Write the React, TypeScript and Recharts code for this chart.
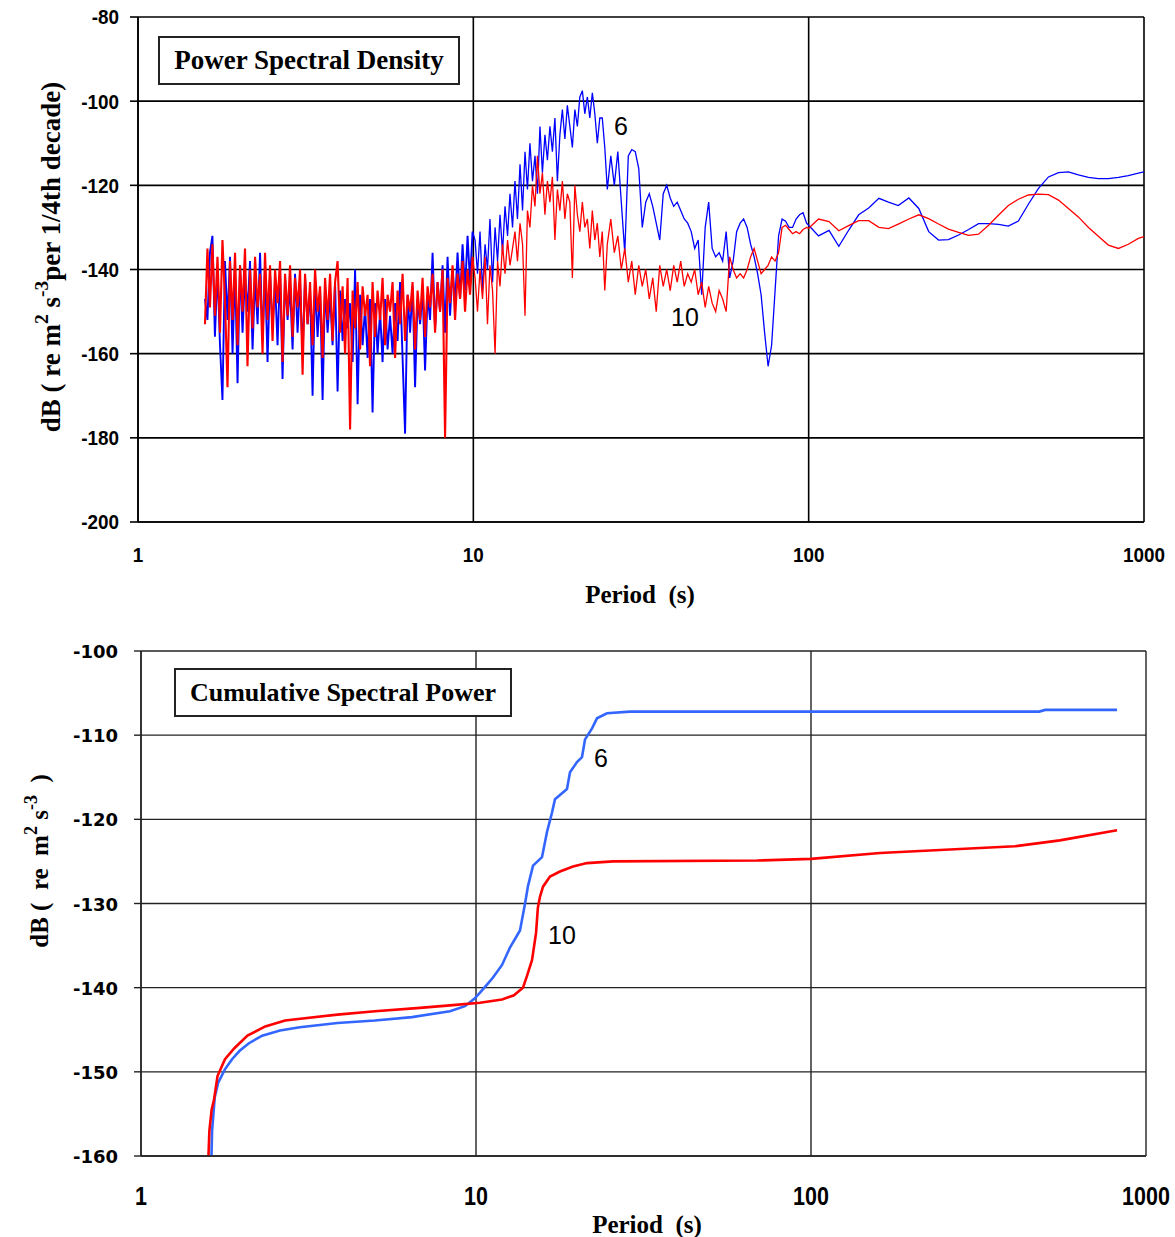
import React from "react";
import { CartesianGrid, Line, LineChart, XAxis, YAxis } from "recharts";

// axes
const periodTicks = [1, 10, 100, 1000];
const psdTicks = [-200, -180, -160, -140, -120, -100, -80];
const cumTicks = [-160, -150, -140, -130, -120, -110, -100];

// ---- Power Spectral Density (top panel), period in s, values in dB ----
// 1.6 - 10 s (dense, noisy part)
const psdPeriodsLow = [
  1.584, 1.611, 1.639, 1.667, 1.696, 1.726, 1.756, 1.786, 1.817, 1.849,
  1.881, 1.914, 1.947, 1.981, 2.015, 2.05, 2.085, 2.121, 2.158, 2.196,
  2.234, 2.273, 2.312, 2.352, 2.392, 2.434, 2.476, 2.519, 2.563, 2.607,
  2.652, 2.698, 2.745, 2.793, 2.841, 2.89, 2.94, 2.991, 3.043, 3.096,
  3.149, 3.204, 3.259, 3.316, 3.373, 3.432, 3.491, 3.552, 3.613, 3.676,
  3.739, 3.804, 3.87, 3.937, 4.005, 4.075, 4.145, 4.217, 4.29, 4.365,
  4.44, 4.517, 4.595, 4.675, 4.755, 4.838, 4.921, 5.006, 5.093, 5.181,
  5.271, 5.362, 5.455, 5.55, 5.645, 5.743, 5.843, 5.944, 6.047, 6.152,
  6.258, 6.366, 6.477, 6.589, 6.703, 6.819, 6.937, 7.057, 7.179, 7.304,
  7.43, 7.559, 7.689, 7.822, 7.958, 8.096, 8.236, 8.378, 8.523, 8.671,
  8.821, 8.973, 9.129, 9.287, 9.447, 9.611, 9.777, 9.946
];
const psdBlueLow = [
  -147, -152, -136, -132, -156, -140, -158, -171, -138, -152,
  -137, -160, -140, -167, -139, -155, -141, -150, -138, -159,
  -142, -153, -136, -157, -140, -162, -141, -154, -143, -158,
  -140, -166, -142, -152, -144, -159, -141, -155, -143, -160,
  -142, -153, -145, -170, -143, -156, -145, -171, -144, -155,
  -146, -158, -143, -169, -145, -157, -147, -154, -148, -162,
  -140, -172, -146, -158, -149, -161, -147, -174, -148, -160,
  -150, -162, -147, -159, -151, -160, -148, -157, -143, -161,
  -179, -146, -155, -144, -168, -147, -153, -145, -164, -146,
  -152, -136, -154, -143, -150, -139, -155, -137, -151, -140,
  -148, -136, -147, -134, -145, -132, -143, -131
];
const psdRedLow = [
  -153, -135, -149, -134, -151, -137, -155, -133, -147, -168,
  -138, -152, -136, -158, -139, -150, -135, -163, -140, -154,
  -137, -149, -141, -160, -136, -152, -139, -157, -140, -148,
  -138, -162, -141, -151, -139, -156, -142, -149, -140, -165,
  -141, -153, -143, -158, -140, -150, -144, -161, -142, -152,
  -141, -157, -143, -138, -155, -144, -160, -142, -178, -145,
  -154, -143, -159, -144, -151, -146, -163, -143, -156, -145,
  -152, -142, -158, -146, -150, -143, -161, -145, -153, -141,
  -157, -146, -150, -143, -159, -145, -152, -142, -156, -144,
  -149, -141, -155, -143, -150, -140, -180, -142, -148, -139,
  -152, -141, -147, -138, -150, -140, -146, -137
];

// 10 - 25 s (peak)
const psdPeriodsMid = [
  10.12, 10.29, 10.47, 10.65, 10.84, 11.02, 11.21, 11.41, 11.61, 11.81,
  12.01, 12.22, 12.43, 12.65, 12.86, 13.09, 13.31, 13.54, 13.78, 14.02,
  14.26, 14.5, 14.75, 15.01, 15.27, 15.53, 15.8, 16.07, 16.35, 16.63,
  16.92, 17.21, 17.51, 17.81, 18.12, 18.43, 18.75, 19.07, 19.4, 19.74,
  20.08, 20.43, 20.78, 21.14, 21.5, 21.88, 22.25, 22.64, 23.03, 23.43,
  23.83, 24.24, 24.66, 25.09
];
const psdBlueMid = [
  -133, -141, -131, -145, -134, -140, -128, -143, -130, -138,
  -127, -136, -125, -132, -122, -130, -119, -128, -115, -126,
  -112, -121, -110, -119, -113, -122, -106, -117, -108, -114,
  -106, -112, -104, -119, -108, -102, -109, -101, -106, -111,
  -102, -106, -99, -97.5, -103, -99, -104, -98, -103, -110,
  -104, -104, -111, -121
];
const psdRedMid = [
  -142, -150, -140, -147, -137, -153, -139, -145, -160, -138,
  -144, -134, -141, -133, -139, -135, -131, -138, -129, -134,
  -151, -126, -130, -120, -125, -113, -122, -117, -127, -119,
  -124, -118, -133, -121, -126, -119, -128, -122, -124, -142,
  -120, -127, -131, -124, -130, -128, -135, -126, -133, -129,
  -137, -131, -145, -134
];

// 25 - 100 s
const psdPeriodsLong = [
  25.7, 26.33, 26.97, 27.62, 28.29, 28.98, 29.68, 30.4, 31.14, 31.9,
  32.67, 33.47, 34.28, 35.11, 35.97, 36.84, 37.73, 38.65, 39.59, 40.55,
  41.54, 42.55, 43.58, 44.64, 45.72, 46.83, 47.97, 49.14, 50.33, 51.55,
  52.8, 54.09, 55.4, 56.75, 58.13, 59.54, 60.98, 62.47, 63.98, 65.54,
  67.13, 68.76, 70.43, 72.14, 73.89, 75.69, 77.53, 79.41, 81.34, 83.32,
  85.34, 87.42, 89.54, 91.72, 93.95, 96.23, 98.57
];
const psdBlueLong = [
  -113, -120, -112, -124, -136, -113, -111.5, -112, -116, -130,
  -124, -122, -125, -129, -133, -122, -120, -123, -125, -124,
  -126, -128, -129, -131, -135, -133, -146, -130, -124, -135,
  -137, -136, -138, -131, -142, -138, -131, -129, -128, -130,
  -134, -137, -141, -146, -155, -163, -158, -145, -132, -128,
  -128.5, -130, -130, -128, -127, -126.5, -129
];
const psdRedLong = [
  -128, -136, -132, -140, -135, -143, -138, -146, -139, -144,
  -140, -147, -142, -150, -139, -144, -140, -145, -139, -143,
  -138, -144, -141, -143, -140, -146, -143, -149, -144, -148,
  -150, -145, -147, -150, -137, -140, -142, -141, -142, -140,
  -137, -135, -138, -141, -140, -139, -137, -138, -136, -130,
  -129.5, -130.5, -131.5, -131, -131.5, -130.5, -130
];

// 100 - 1000 s (smooth)
const psdPeriodsTail = [
  100, 107, 115, 123, 132, 141, 151, 162, 173, 185,
  199, 213, 228, 244, 261, 280, 300, 321, 344, 368,
  394, 422, 452, 484, 519, 556, 595, 637, 683, 731,
  783, 839, 898, 962, 1000
];
const psdBlueTail = [
  -129.5, -132, -130.7, -134.5, -130.5, -127, -125.4, -123.1, -124, -124.8,
  -123, -125.5, -131, -133, -132.9, -131.8, -130.5, -129.1, -129.1, -129.3,
  -129.7, -128.5, -124.5, -120.8, -118, -117, -116.8, -117.5, -118.1, -118.4,
  -118.4, -118.1, -117.7, -117.1, -116.8
];
const psdRedTail = [
  -130.2, -128, -128.6, -130.8, -129.5, -128.4, -128.4, -130, -130.3, -129.2,
  -128, -127, -127.9, -129.2, -130.4, -131.2, -131.9, -131.6, -129.5, -127.1,
  -124.8, -123.3, -122.3, -122.1, -122.2, -123.5, -125.5, -127.5, -130, -132.1,
  -134.2, -135, -134, -132.6, -132.2
];

// ---- Cumulative Spectral Power (bottom panel) ----
const cumBluePeriods = [
  1.623, 1.63, 1.66, 1.7, 1.78, 1.87, 1.97, 2.1, 2.3, 2.6,
  2.98, 3.86, 4.99, 6.44, 8.36, 9.27, 9.9, 10.28, 10.8, 11.24,
  11.96, 12.64, 13.53, 14.01, 14.3, 14.8, 15.74, 16.29, 16.86, 17.21,
  18.69, 19.08, 20.02, 20.72, 21.16, 22.2, 22.97, 24.6, 28.82, 480,
  500, 819.5
];
const cumBlueValues = [
  -160, -157, -153, -151.3, -149.7, -148.5, -147.5, -146.6, -145.7, -145.1,
  -144.7, -144.2, -143.9, -143.5, -142.8, -142.2, -141.3, -140.6, -139.6, -138.8,
  -137.3, -135.2, -133.2, -130, -127.9, -125.5, -124.5, -121.5, -119.2, -117.6,
  -116.4, -114.4, -113.2, -112.6, -110.5, -109.2, -108, -107.4, -107.2, -107.2,
  -107, -107
];
const cumRedPeriods = [
  1.59, 1.6, 1.625, 1.652, 1.692, 1.781, 1.9, 2.079, 2.35, 2.691,
  3.86, 4.994, 6.804, 8.362, 10.28, 11.96, 12.98, 13.81, 14.2, 14.7,
  15.11, 15.3, 15.52, 15.85, 16.63, 17.81, 19.48, 21.45, 25.64, 69,
  100, 160.7, 406, 553, 819.5
];
const cumRedValues = [
  -160, -157, -154.5, -153.3, -150.5, -148.5, -147.2, -145.7, -144.6, -143.9,
  -143.2, -142.8, -142.4, -142.1, -141.8, -141.4, -140.9, -140, -138.6, -136.7,
  -133.5, -130.5, -129.2, -128, -126.8, -126.2, -125.6, -125.2, -125, -124.9,
  -124.7, -124, -123.2, -122.5, -121.3
];

const psdPeriods = [...psdPeriodsLow, ...psdPeriodsMid, ...psdPeriodsLong, ...psdPeriodsTail];
const psdBlue = [...psdBlueLow, ...psdBlueMid, ...psdBlueLong, ...psdBlueTail];
const psdRed = [...psdRedLow, ...psdRedMid, ...psdRedLong, ...psdRedTail];
const lowEnd = psdPeriodsLow.length - 1;
// the short-period part is drawn with a heavier pen so the noisy band reads as a solid mass
const psdRows = psdPeriods.map((p, i) => ({
  p,
  blueDense: i <= lowEnd ? psdBlue[i] : null,
  blue: i >= lowEnd ? psdBlue[i] : null,
  redDense: i <= lowEnd ? psdRed[i] : null,
  red: i >= lowEnd ? psdRed[i] : null
}));

const cumBlueRows = cumBluePeriods.map((p, i) => ({ p, v: cumBlueValues[i] }));
const cumRedRows = cumRedPeriods.map((p, i) => ({ p, v: cumRedValues[i] }));

const SANS = "'Liberation Sans', Arial, sans-serif";
const SERIF = "'Liberation Serif', 'Times New Roman', serif";

function squeeze(x: number, k: number) {
  return `translate(${x} 0) scale(${k} 1) translate(${-x} 0)`;
}

function TopXTick(props: any) {
  const { x, y, payload } = props;
  return (
    <text x={x} y={y + 40} textAnchor="middle" fontFamily={SANS} fontWeight={700} fontSize={21} fill="#000" transform={squeeze(x, 0.9)}>
      {payload.value}
    </text>
  );
}

function TopYTick(props: any) {
  const { x, y, payload } = props;
  return (
    <text x={x} y={y + 7.5} textAnchor="end" fontFamily={SANS} fontWeight={700} fontSize={21} fill="#000" transform={squeeze(x, 0.9)}>
      {payload.value}
    </text>
  );
}

function BottomXTick(props: any) {
  const { x, y, payload } = props;
  return (
    <text x={x} y={y + 49} textAnchor="middle" fontFamily={SANS} fontWeight={700} fontSize={25} fill="#000" transform={squeeze(x, 0.86)}>
      {payload.value}
    </text>
  );
}

function BottomYTick(props: any) {
  const { x, y, payload } = props;
  return (
    <text x={x} y={y + 7} textAnchor="end" fontFamily="'DejaVu Sans', Verdana, sans-serif" fontWeight={700} fontSize={18} fill="#000">
      {payload.value}
    </text>
  );
}

const sup: React.CSSProperties = { fontSize: "0.72em", position: "relative", top: "-0.6em" };

function TitleBox({ left, top, width, size, children }: { left: number; top: number; width: number; size: number; children: React.ReactNode }) {
  return (
    <div
      style={{
        position: "absolute",
        left,
        top,
        width,
        height: 49,
        boxSizing: "border-box",
        border: "2px solid #222",
        background: "#fff",
        display: "flex",
        alignItems: "center",
        justifyContent: "center",
        fontFamily: SERIF,
        fontWeight: 700,
        fontSize: size,
        color: "#000"
      }}
    >
      {children}
    </div>
  );
}

function Note({ left, top, text }: { left: number; top: number; text: string }) {
  return (
    <div style={{ position: "absolute", left, top, fontFamily: SANS, fontSize: 25, lineHeight: 1, color: "#000" }}>
      {text}
    </div>
  );
}

function AxisTitle({ cx, cy, size, rotate, children }: { cx: number; cy: number; size: number; rotate?: boolean; children: React.ReactNode }) {
  return (
    <div
      style={{
        position: "absolute",
        left: cx,
        top: cy,
        transform: rotate ? "translate(-50%, -50%) rotate(-90deg)" : "translate(-50%, -50%)",
        whiteSpace: "pre",
        fontFamily: SERIF,
        fontWeight: 700,
        fontSize: size,
        lineHeight: 1,
        color: "#000"
      }}
    >
      {children}
    </div>
  );
}

export default function App() {
  return (
    <div style={{ position: "absolute", left: 0, top: 0, width: 1175, height: 1237, background: "#fff" }}>
      <div style={{ position: "absolute", left: 0, top: 0 }}>
        <LineChart width={1175} height={610} data={psdRows} margin={{ top: 17, right: 31, bottom: 28, left: 0 }}>
          <CartesianGrid stroke="#000" strokeWidth={1.6} />
          <XAxis
            dataKey="p"
            type="number"
            scale="log"
            domain={[1, 1000]}
            ticks={periodTicks}
            allowDataOverflow
            height={60}
            tickLine={false}
            tickSize={0}
            tickMargin={0}
            axisLine={{ stroke: "#000", strokeWidth: 1.6 }}
            tick={TopXTick}
          />
          <YAxis
            type="number"
            domain={[-200, -80]}
            ticks={psdTicks}
            allowDataOverflow
            width={138}
            tickSize={8}
            tickMargin={11}
            tickLine={{ stroke: "#000", strokeWidth: 1.6 }}
            axisLine={{ stroke: "#000", strokeWidth: 1.6 }}
            tick={TopYTick}
          />
          <Line type="linear" dataKey="blueDense" stroke="#0000ff" strokeWidth={1.9} dot={false} activeDot={false} isAnimationActive={false} />
          <Line type="linear" dataKey="blue" stroke="#0000ff" strokeWidth={1.3} dot={false} activeDot={false} isAnimationActive={false} />
          <Line type="linear" dataKey="redDense" stroke="#ff0000" strokeWidth={2.1} dot={false} activeDot={false} isAnimationActive={false} />
          <Line type="linear" dataKey="red" stroke="#ff0000" strokeWidth={1.3} dot={false} activeDot={false} isAnimationActive={false} />
        </LineChart>
      </div>

      <TitleBox left={158} top={36} width={302} size={27}>Power Spectral Density</TitleBox>
      <Note left={614} top={114} text="6" />
      <Note left={671} top={305} text="10" />
      <AxisTitle cx={51} cy={257} size={27} rotate>
        dB ( re m<span style={sup}>2</span> s<span style={sup}>-3</span>per 1/4th decade)
      </AxisTitle>
      <AxisTitle cx={640} cy={594} size={25}>{"Period  (s)"}</AxisTitle>

      <div style={{ position: "absolute", left: 0, top: 620 }}>
        <LineChart width={1175} height={617} margin={{ top: 31, right: 29, bottom: 21, left: 0 }}>
          <CartesianGrid stroke="#222" strokeWidth={1.4} />
          <XAxis
            dataKey="p"
            type="number"
            scale="log"
            domain={[1, 1000]}
            ticks={periodTicks}
            allowDataOverflow
            height={60}
            tickLine={false}
            tickSize={0}
            tickMargin={0}
            axisLine={{ stroke: "#222", strokeWidth: 1.4 }}
            tick={BottomXTick}
          />
          <YAxis
            type="number"
            domain={[-160, -100]}
            ticks={cumTicks}
            allowDataOverflow
            width={141}
            tickSize={7}
            tickMargin={16}
            tickLine={{ stroke: "#222", strokeWidth: 1.4 }}
            axisLine={{ stroke: "#222", strokeWidth: 1.4 }}
            tick={BottomYTick}
          />
          <Line data={cumBlueRows} type="linear" dataKey="v" stroke="#3366ff" strokeWidth={2.6} dot={false} activeDot={false} isAnimationActive={false} />
          <Line data={cumRedRows} type="linear" dataKey="v" stroke="#ff0000" strokeWidth={2.6} dot={false} activeDot={false} isAnimationActive={false} />
        </LineChart>
      </div>

      <TitleBox left={174} top={668} width={338} size={26}>Cumulative Spectral Power</TitleBox>
      <Note left={594} top={746} text="6" />
      <Note left={548} top={923} text="10" />
      <AxisTitle cx={39} cy={861} size={25} rotate>
        dB (  re  m<span style={sup}>2</span> s<span style={sup}>-3</span>  )
      </AxisTitle>
      <AxisTitle cx={647} cy={1224} size={25}>{"Period  (s)"}</AxisTitle>
    </div>
  );
}
